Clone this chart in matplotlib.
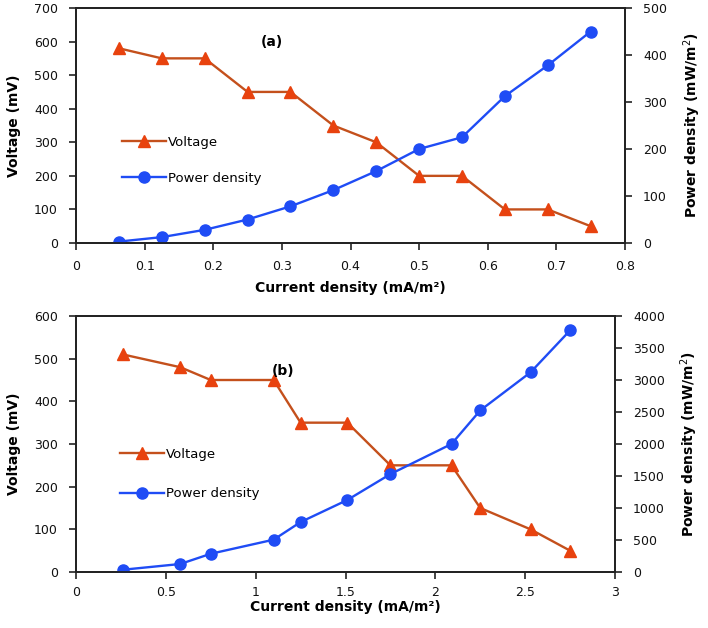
import matplotlib
matplotlib.use('Agg')
import matplotlib.pyplot as plt

# panel (a)
current_a = [0.0625, 0.125, 0.1875, 0.25, 0.3125, 0.375, 0.4375, 0.5,
             0.5625, 0.625, 0.6875, 0.75]
voltage_a = [580, 550, 550, 450, 450, 350, 300, 200, 200, 100, 100, 50]
power_a = [3, 12.5, 28, 50, 78, 112.5, 153, 200, 225, 312.5, 378, 450]

# panel (b)
current_b = [0.26, 0.58, 0.75, 1.1, 1.25, 1.51, 1.75, 2.09, 2.25, 2.53, 2.75]
voltage_b = [510, 480, 450, 450, 350, 350, 250, 250, 150, 100, 50]
power_b = [35, 125, 285, 505, 780, 1125, 1530, 2000, 2525, 3120, 3775]

ORANGE_LINE = '#c4501c'
ORANGE_MARK = '#e8420e'
BLUE = '#1f4cf5'
TICK_FS = 9
LABEL_FS = 10
LEGEND_FS = 9.5

fig = plt.figure(figsize=(7.08, 6.28), dpi=100)


def panel(rect, x, v, p, xlim, xticks, xfmt, vlim, vticks, plim, pticks,
          tag, tag_xy, leg_anchor, spacing, xpad, xlabelpad):
    ax = fig.add_axes(rect)
    ax2 = ax.twinx()
    lv, = ax.plot(x, v, color=ORANGE_LINE, lw=1.7, marker='^', ms=8.5,
                  mfc=ORANGE_MARK, mec=ORANGE_MARK, label='Voltage')
    lp, = ax2.plot(x, p, color=BLUE, lw=1.7, marker='o', ms=8,
                   mfc=BLUE, mec=BLUE, label='Power density')
    ax.set_xlim(*xlim)
    ax.set_xticks(xticks)
    ax.set_xticklabels([xfmt(t) for t in xticks])
    ax.set_ylim(*vlim)
    ax.set_yticks(vticks)
    ax2.set_ylim(*plim)
    ax2.set_yticks(pticks)
    for a in (ax, ax2):
        a.tick_params(labelsize=TICK_FS, length=5, width=1.1, colors='#111111',
                      pad=8)
        for s in a.spines.values():
            s.set_linewidth(1.3)
            s.set_color('#222222')
    ax.tick_params(axis='x', pad=xpad)
    ax.set_ylabel('Voltage (mV)', fontsize=LABEL_FS, fontweight='bold',
                  labelpad=9)
    ax2.set_ylabel('Power density (mW/m$^2$)', fontsize=LABEL_FS,
                   fontweight='bold', labelpad=10)
    ax.set_xlabel('Current density (mA/m²)', fontsize=LABEL_FS,
                  fontweight='bold', labelpad=xlabelpad)
    ax.text(tag_xy[0], tag_xy[1], tag, fontsize=10, fontweight='bold',
            ha='center', va='center')
    ax.legend(handles=[lv, lp], loc='upper left', bbox_to_anchor=leg_anchor,
              frameon=False, fontsize=LEGEND_FS, handlelength=3.3,
              handletextpad=0.2, borderpad=0, borderaxespad=0,
              labelspacing=spacing)
    return ax


def fmt_a(t):
    return '0' if t == 0 else ('%.1f' % t)


def fmt_b(t):
    return ('%g' % t)


panel([76 / 708, 1 - 243 / 628, 549 / 708, 235 / 628],
      current_a, voltage_a, power_a,
      (0, 0.8), [0, 0.1, 0.2, 0.3, 0.4, 0.5, 0.6, 0.7, 0.8], fmt_a,
      (0, 700), range(0, 701, 100), (0, 500), range(0, 501, 100),
      '(a)', (0.286, 598), (0.084, 0.455), 1.7, 7, 6)

panel([76 / 708, 1 - 572 / 628, 539 / 708, 256 / 628],
      current_b, voltage_b, power_b,
      (0, 3), [0, 0.5, 1, 1.5, 2, 2.5, 3], fmt_b,
      (0, 600), range(0, 601, 100), (0, 4000), range(0, 4001, 500),
      '(b)', (1.15, 471), (0.082, 0.485), 2.0, 5, 1)

fig.savefig('out.png', dpi=100)
